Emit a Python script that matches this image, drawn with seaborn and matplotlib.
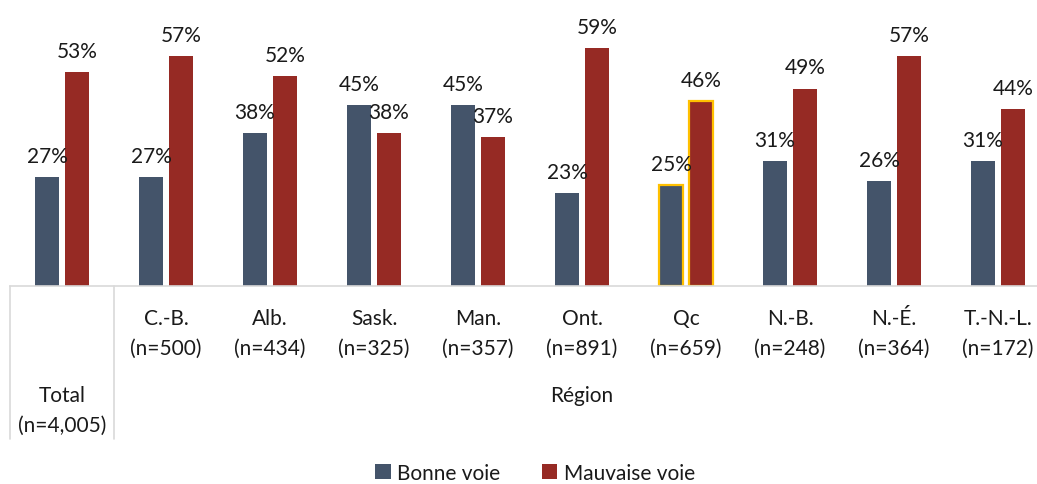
import matplotlib
matplotlib.use("Agg")
import matplotlib.pyplot as plt
import seaborn as sns
import pandas as pd
from matplotlib.patches import Patch

regions = ["Total", "C.-B.", "Alb.", "Sask.", "Man.", "Ont.", "Qc", "N.-B.", "N.-É.", "T.-N.-L."]
sizes = ["(n=4,005)", "(n=500)", "(n=434)", "(n=325)", "(n=357)", "(n=891)", "(n=659)", "(n=248)", "(n=364)", "(n=172)"]
bonne = [27, 27, 38, 45, 45, 23, 25, 31, 26, 31]
mauvaise = [53, 57, 52, 38, 37, 59, 46, 49, 57, 44]
series = ["Bonne voie", "Mauvaise voie"]
colors = ["#44546A", "#962A24"]
highlight = "Qc"

sns.set_theme(style="white")
plt.rcParams["font.family"] = ["Lato", "DejaVu Sans"]

df = pd.DataFrame({
    "region": regions * 2,
    "serie": [series[0]] * len(regions) + [series[1]] * len(regions),
    "pct": bonne + mauvaise,
})

W, H = 1037, 485
fig = plt.figure(figsize=(W / 100, H / 100), dpi=100)
base_y = 287
ax = fig.add_axes([10 / W, 1 - base_y / H, 1040 / W, base_y / H])

sns.barplot(data=df, x="region", y="pct", hue="serie", order=regions,
            hue_order=series, palette=colors, width=0.577, gap=0.2,
            saturation=1, linewidth=0, legend=False, ax=ax)

ax.set_xlim(-0.5, len(regions) - 0.5)
ax.set_ylim(0, base_y / 4.03)

fs = 15
txt = "#1a1a1a"
hi = regions.index(highlight)
for cont in ax.containers:
    for i, bar in enumerate(cont):
        if i == hi:
            bar.set_edgecolor("#FFC000")
            bar.set_linewidth(1.6)
    ax.bar_label(cont, fmt="%d%%", padding=8, fontsize=fs, color=txt)

for s in ["top", "right", "left"]:
    ax.spines[s].set_visible(False)
ax.spines["bottom"].set_color("#D9D9D9")
ax.spines["bottom"].set_linewidth(1.2)
ax.set_xticks([])
ax.set_yticks([])
ax.set_xlabel("")
ax.set_ylabel("")

tr = ax.get_xaxis_transform()
px = 1 / base_y
for xv in [-0.5, 0.5]:
    ax.plot([xv, xv], [0, -(440 - base_y) * px], transform=tr, clip_on=False,
            color="#D9D9D9", lw=1.2)

for i, (r, n) in enumerate(zip(regions, sizes)):
    if i == 0:
        y1, y2 = 396, 426
    else:
        y1, y2 = 319, 349
    ax.text(i, -(y1 - base_y) * px, r, transform=tr, ha="center", va="center",
            fontsize=fs, color=txt)
    ax.text(i, -(y2 - base_y) * px, n, transform=tr, ha="center", va="center",
            fontsize=fs, color=txt)

ax.text((1 + len(regions) - 1) / 2, -(396 - base_y) * px, "Région", transform=tr,
        ha="center", va="center", fontsize=fs, color=txt)

handles = [Patch(facecolor=c, edgecolor="none") for c in colors]
fig.legend(handles, series, loc="center", bbox_to_anchor=(535 / W, 1 - 474 / H),
           ncol=2, frameon=False, fontsize=fs, handlelength=0.75, handleheight=0.75,
           handletextpad=0.3, columnspacing=2.0, labelcolor=txt)

fig.savefig("out.png", dpi=100)
